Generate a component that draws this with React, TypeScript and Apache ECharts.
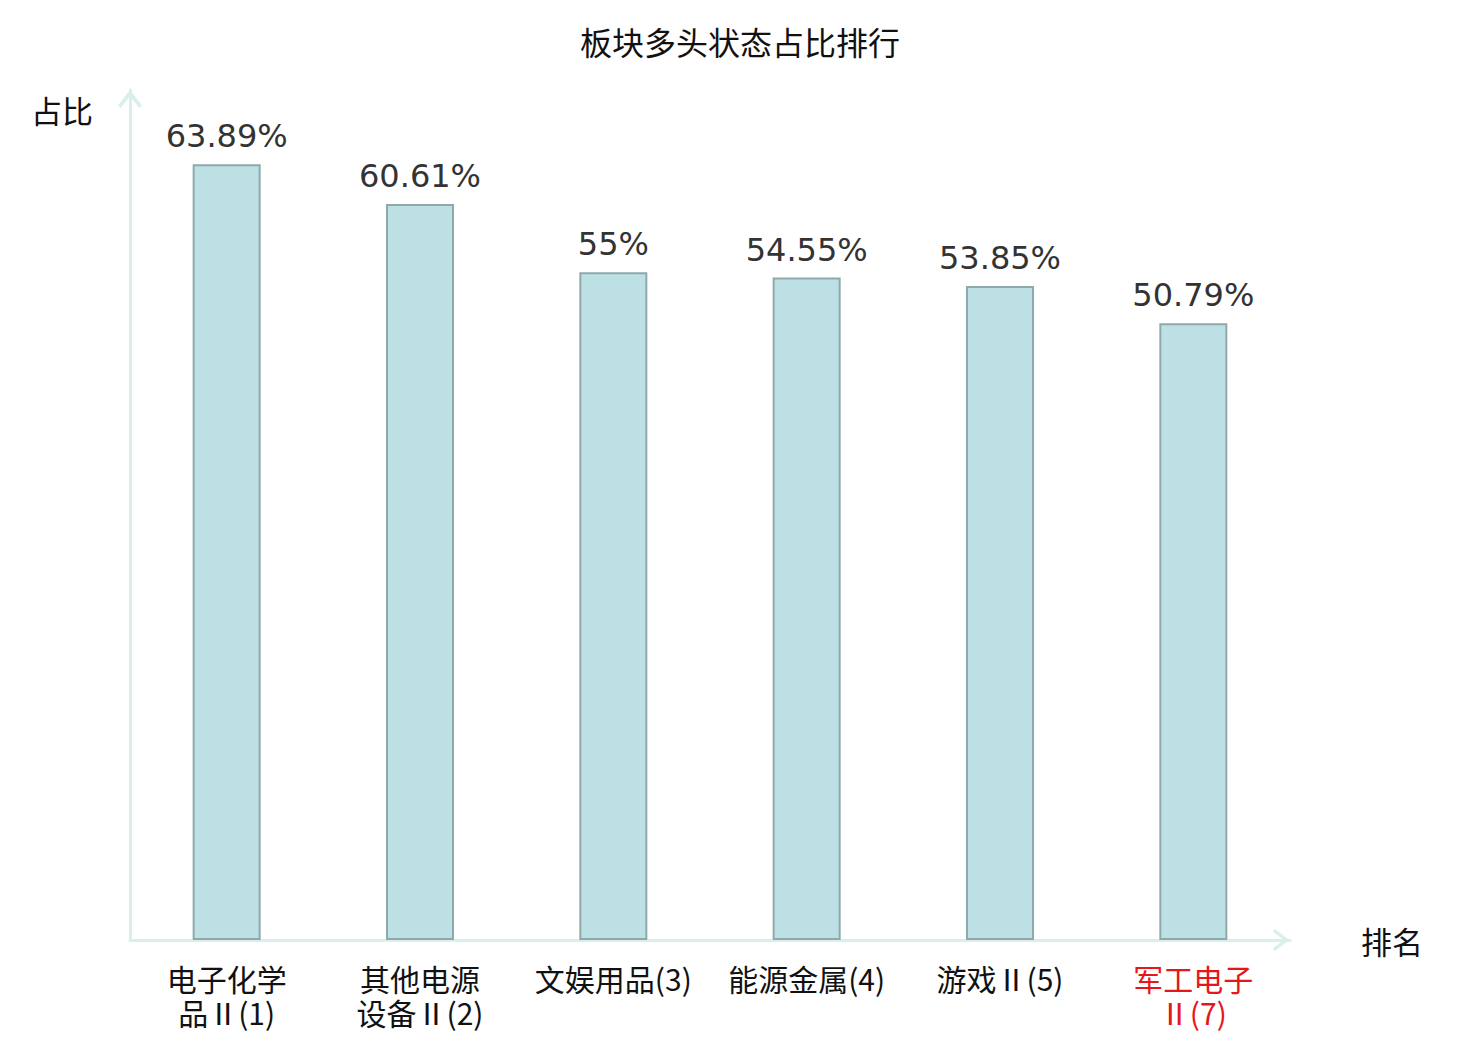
import React, { useEffect, useRef } from "react";
import * as echarts from "echarts";

const titleText = "板块多头状态占比排行";
const categories = [
  "电子化学品Ⅱ(1)",
  "其他电源设备Ⅱ(2)",
  "文娱用品(3)",
  "能源金属(4)",
  "游戏Ⅱ(5)",
  "军工电子Ⅱ(7)",
];
const ratios = [63.89, 60.61, 55, 54.55, 53.85, 50.79];
const highlightIndex = [5];
const yAxisName = "占比";
const xAxisName = "排名";

const CJK = "'Noto Sans CJK SC', 'Noto Sans', sans-serif";
const chevron = "path://M12,0 L24,15.5 L21.2,18 L12,6 L2.8,18 L0,15.5 Z";

export default function App() {
  const ref = useRef<HTMLDivElement>(null);
  useEffect(() => {
    document.body.style.margin = "0";
    const chart = echarts.init(ref.current!, null, { renderer: "svg" });
    chart.setOption({
      animation: false,
      backgroundColor: "#ffffff",
      title: {
        text: titleText,
        left: "center",
        top: 20,
        textStyle: { fontFamily: CJK, fontSize: 32, fontWeight: "normal", color: "#111" },
      },
      grid: { left: 130, right: 190, top: 90, bottom: 100, containLabel: false },
      xAxis: {
        type: "category",
        data: categories,
        name: xAxisName,
        nameLocation: "end",
        nameGap: 71,
        nameTextStyle: { fontFamily: CJK, fontSize: 31, color: "#111" },
        axisLine: {
          show: true,
          symbol: ["none", chevron],
          symbolSize: [22, 18],
          symbolOffset: [0, -9],
          lineStyle: { color: "#d9efeb", width: 3 },
        },
        axisTick: { show: false },
        axisLabel: {
          interval: 0,
          margin: 21,
          fontFamily: CJK,
          fontSize: 30,
          lineHeight: 34,
          color: (_v: any, idx: number) => (highlightIndex.includes(idx) ? "#e8161b" : "#111"),
          formatter: (name: string) =>
            name.length > 7 ? name.slice(0, 4) + "\n" + name.slice(4) : name,
        },
      },
      yAxis: {
        type: "value",
        min: 0,
        max: 70,
        name: yAxisName,
        nameLocation: "end",
        nameGap: -19,
        nameTextStyle: {
          fontFamily: CJK,
          fontSize: 31,
          color: "#111",
          align: "right",
          verticalAlign: "middle",
          padding: [0, 37, 0, 0],
        },
        axisLine: {
          show: true,
          symbol: ["none", chevron],
          symbolSize: [24, 18],
          symbolOffset: [0, -9],
          lineStyle: { color: "#d9efeb", width: 3 },
        },
        axisTick: { show: false },
        axisLabel: { show: false },
        splitLine: { show: false },
      },
      series: [
        {
          type: "bar",
          data: ratios,
          barWidth: 68,
          itemStyle: { color: "#bce0e3", borderColor: "#8fa9ab", borderWidth: 2 },
          label: {
            show: true,
            position: "top",
            distance: 12,
            fontFamily: "'DejaVu Sans', sans-serif",
            fontSize: 32,
            color: "#333",
            formatter: (p: any) => p.value + "%",
          },
        },
      ],
    });
    return () => chart.dispose();
  }, []);
  return <div ref={ref} style={{ width: 1480, height: 1040 }} />;
}
